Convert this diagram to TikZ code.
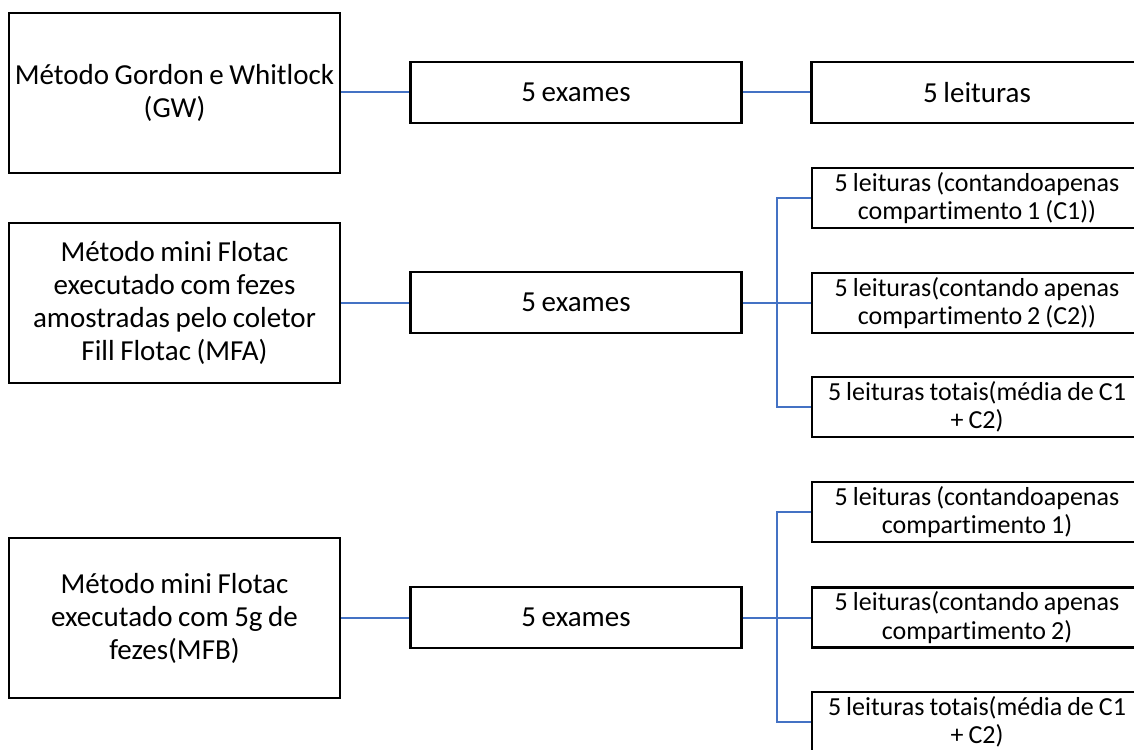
\documentclass[tikz,border=0pt]{standalone}
\usepackage{fontspec}
\setmainfont{Carlito}[Ligatures=NoCommon, WordSpace=0.85]
\usepackage{xcolor}
\definecolor{linkblue}{HTML}{4472C4}
\usetikzlibrary{calc}

\tikzset{
	box/.style={draw, line width=2.4pt, inner sep=0pt, align=center, fill=white},
	bigbox/.style={box, minimum width=331pt, minimum height=160pt, font=\fontsize{29}{33}\selectfont},
	exbox/.style={box, minimum width=331pt, minimum height=61pt, font=\fontsize{29}{33}\selectfont},
	leibox/.style={box, minimum width=330pt, minimum height=60pt, font=\fontsize{26}{28.5}\selectfont},
	link/.style={draw=linkblue, line width=2pt}
}

\begin{document}
\begin{tikzpicture}[x=1pt, y=-1pt]
	\useasboundingbox (0,0) rectangle (1134,749);
	\node [bigbox] (gw) at (174.5,93) {Método Gordon e Whitlock\\(GW)};
	\node [exbox] (gwex) at (576,92.5) {5 exames};
	\node [exbox] (gwlei) at (977,92.5) {5 leituras};
	\node [bigbox] (mfa) at (174.5,303) {Método mini Flotac\\executado com fezes\\amostradas pelo coletor\\Fill Flotac (MFA)};
	\node [exbox] (mfaex) at (576,302.5) {5 exames};
	\node [leibox] (mfa1) at (977,198) {5 leituras (contandoapenas\\compartimento 1 (C1))};
	\node [leibox] (mfa2) at (977,303) {5 leituras(contando apenas\\compartimento 2 (C2))};
	\node [leibox] (mfa3) at (977,407) {5 leituras totais(média de C1\\+ C2)};
	\node [bigbox] (mfb) at (174.5,618) {Método mini Flotac\\executado com 5g de\\fezes(MFB)};
	\node [exbox] (mfbex) at (576,617.5) {5 exames};
	\node [leibox] (mfb1) at (977,512) {5 leituras (contandoapenas\\compartimento 1)};
	\node [leibox] (mfb2) at (977,617.5) {5 leituras(contando apenas\\compartimento 2)};
	\node [leibox] (mfb3) at (977,722) {5 leituras totais(média de C1\\+ C2)};
	\coordinate (mfaj) at (777,302.5);
	\coordinate (mfbj) at (777,617.5);
	\draw [link] (gw.east |- gwex.west) -- (gwex.west);
	\draw [link] (gwex.east) -- (gwlei.west);
	\draw [link] (mfa.east |- mfaex.west) -- (mfaex.west);
	\draw [link] (mfb.east |- mfbex.west) -- (mfbex.west);
	\draw [link] (mfaex.east) -- (mfaj);
	\draw [link] (mfbex.east) -- (mfbj);
	\foreach \i in {1,2,3}{
		\draw [link] (mfa\i.west) -| (mfaj);
		\draw [link] (mfb\i.west) -| (mfbj);
	}
\end{tikzpicture}
\end{document}
